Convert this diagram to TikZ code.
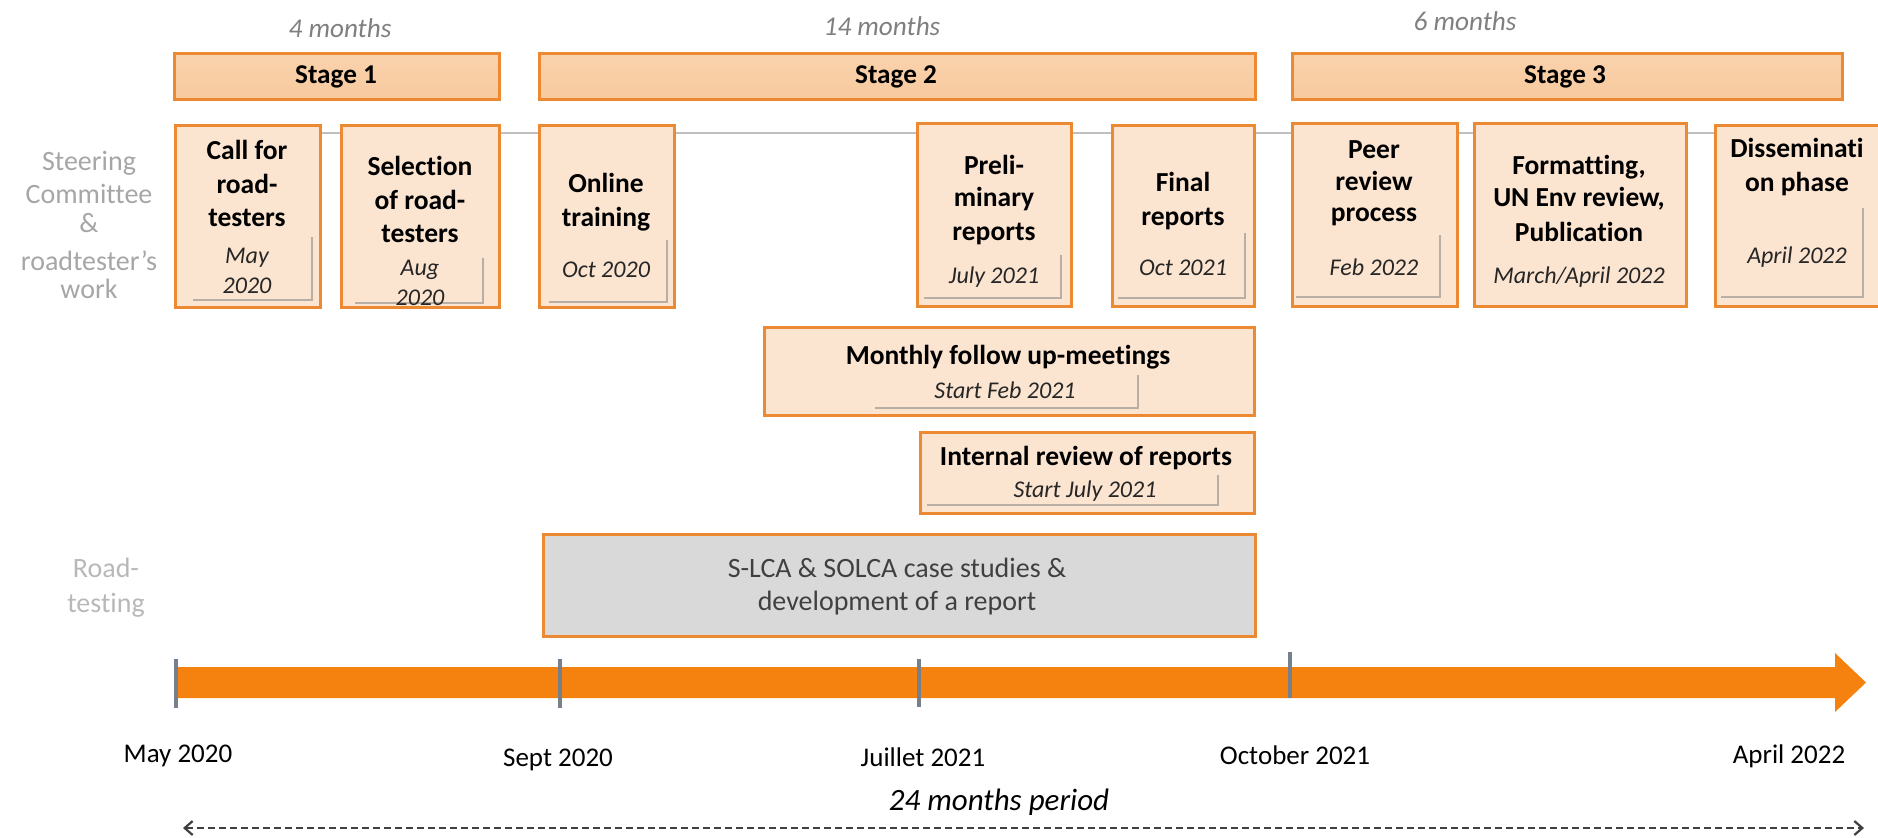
\documentclass[tikz,border=0pt]{standalone}
\usepackage{fontspec}
\setmainfont{Carlito}[Ligatures=NoCommon]
\usetikzlibrary{arrows.meta,shadows,fit}
\definecolor{borderor}{HTML}{EC8A34}
\definecolor{boxfill}{HTML}{FBE4D0}
\definecolor{stagefill}{HTML}{F8CA9E}
\definecolor{baror}{HTML}{F5820F}
\definecolor{tickgray}{HTML}{76808C}
\definecolor{lblgray}{HTML}{A6A6A6}
\definecolor{monthgray}{HTML}{7F7F7F}
\definecolor{grayfill}{HTML}{D9D9D9}
\definecolor{inshadow}{HTML}{A39C95}
\definecolor{slcatext}{HTML}{404040}
\begin{document}
\begin{tikzpicture}[x=0.5pt, y=-0.5pt,
  txt/.style={inner sep=0pt, anchor=base},
  ttl/.style={txt, font=\fontsize{13.75pt}{16.5pt}\selectfont\bfseries, text=black},
  dte/.style={txt, font=\fontsize{12pt}{15pt}\selectfont\itshape, text=black!85},
  stg/.style={txt, font=\fontsize{13.6pt}{16pt}\selectfont\bfseries, text=black},
  mth/.style={txt, font=\fontsize{13.6pt}{16pt}\selectfont\itshape, text=monthgray},
  rowlbl/.style={txt, font=\fontsize{14pt}{16pt}\selectfont, text=lblgray},
  datelbl/.style={txt, font=\fontsize{13.5pt}{16pt}\selectfont, text=black},
  slca/.style={txt, font=\fontsize{14pt}{16.5pt}\selectfont, text=slcatext},
  tbox/.style={draw=borderor, line width=1.5pt, fill=boxfill, inner sep=0pt,
    drop shadow={shadow xshift=0.6pt, shadow yshift=-1.2pt, opacity=0.3}},
  sbar/.style={draw=borderor, line width=1.5pt, inner sep=0pt,
    top color=stagefill!85!white, bottom color=stagefill,
    drop shadow={shadow xshift=0.6pt, shadow yshift=-1.2pt, opacity=0.3}},
  gbox/.style={draw=borderor, line width=1.5pt, fill=grayfill, inner sep=0pt},
  inshd/.style={draw=inshadow, line width=1.2pt, opacity=0.75},
  tick/.style={draw=tickgray, line width=2pt},
  thinline/.style={draw=black!25, line width=0.6pt},
  period/.style={draw=black!75, line width=1.1pt, dash pattern=on 3.5pt off 2pt,
    {Straight Barb[length=4pt,width=7pt]}-{Straight Barb[length=4pt,width=7pt]}}
]
\useasboundingbox (0,0) rectangle (1878,837);

% duration labels
\node[mth] (m1) at (340,37) {4 months};
\node[mth] (m2) at (882,35) {14 months};
\node[mth] (m3) at (1465,30) {6 months};

% stage bars
\node[sbar, fit={(174,53) (499,99)}] (s1) {};
\node[sbar, fit={(539,53) (1255,99)}] (s2) {};
\node[sbar, fit={(1292,53) (1842,99)}] (s3) {};
\node[stg] (s1t) at (336,83) {Stage 1};
\node[stg] (s2t) at (896,83) {Stage 2};
\node[stg] (s3t) at (1565,83) {Stage 3};

% thin line behind boxes
\coordinate (la) at (175,133);
\coordinate (lb) at (1878,133);
\draw[thinline] (la) -- (lb);

% row labels
\node[rowlbl] (r1) at (89,170) {Steering};
\node[rowlbl] (r2) at (89,203) {Committee};
\node[rowlbl] (r3) at (89,232) {\&};
\node[rowlbl] (r4) at (89,270) {roadtester’s};
\node[rowlbl] (r5) at (89,298) {work};
\node[rowlbl, text=black!28] (r6) at (106,577) {Road-};
\node[rowlbl, text=black!28] (r7) at (106,612) {testing};

% activity boxes
\node[tbox, fit={(175,125) (320,307)}] (b1) {};
\node[tbox, fit={(341,125) (499,307)}] (b2) {};
\node[tbox, fit={(539,125) (674,307)}] (b3) {};
\node[tbox, fit={(917,123) (1071,306)}] (b4) {};
\node[tbox, fit={(1112,125) (1254,306)}] (b5) {};
\node[tbox, fit={(1292,123) (1457,306)}] (b6) {};
\node[tbox, fit={(1474,123) (1686,306)}] (b7) {};
\node[tbox, fit={(1715,125) (1890,306)}] (b8) {};
\node[tbox, fit={(764,327) (1254,415)}] (b9) {};
\node[tbox, fit={(920,432) (1254,513)}] (b10) {};
\node[gbox, fit={(543,534) (1255,636)}] (b11) {};

% inner shadows
\draw[inshd] (312,237) -- (312,300) -- (193,300);
\draw[inshd] (483,258) -- (483,303) -- (355,303);
\draw[inshd] (667,240) -- (667,302) -- (549,302);
\draw[inshd] (1061,255) -- (1061,298) -- (924,298);
\draw[inshd] (1245,233) -- (1245,298) -- (1118,298);
\draw[inshd] (1440,235) -- (1440,297) -- (1296,297);
\draw[inshd] (1863,208) -- (1863,297) -- (1721,297);
\draw[inshd] (1138,375) -- (1138,408) -- (875,408);
\draw[inshd] (1218,475) -- (1218,505) -- (927,505);

% box texts
\node[ttl] (t1a) at (247,159) {Call for};
\node[ttl] (t1b) at (247,193) {road-};
\node[ttl] (t1c) at (247,226) {testers};
\node[dte] (d1a) at (247,263) {May};
\node[dte] (d1b) at (247,293) {2020};

\node[ttl] (t2a) at (420,175) {Selection};
\node[ttl] (t2b) at (420,209) {of road-};
\node[ttl] (t2c) at (420,242) {testers};
\node[dte] (d2a) at (420,275) {Aug};
\node[dte] (d2b) at (420,305) {2020};

\node[ttl] (t3a) at (606,192) {Online};
\node[ttl] (t3b) at (606,226) {training};
\node[dte] (d3) at (606,277) {Oct 2020};

\node[ttl] (t4a) at (994,174) {Preli-};
\node[ttl] (t4b) at (994,206) {minary};
\node[ttl] (t4c) at (994,240) {reports};
\node[dte] (d4) at (994,283) {July 2021};

\node[ttl] (t5a) at (1183,191) {Final};
\node[ttl] (t5b) at (1183,225) {reports};
\node[dte] (d5) at (1183,275) {Oct 2021};

\node[ttl] (t6a) at (1374,158) {Peer};
\node[ttl] (t6b) at (1374,190) {review};
\node[ttl] (t6c) at (1374,221) {process};
\node[dte] (d6) at (1374,275) {Feb 2022};

\node[ttl] (t7a) at (1579,174) {Formatting,};
\node[ttl] (t7b) at (1579,206) {UN Env review,};
\node[ttl] (t7c) at (1579,241) {Publication};
\node[dte] (d7) at (1579,283) {March/April 2022};

\node[ttl] (t8a) at (1797,157) {Disseminati};
\node[ttl] (t8b) at (1797,191) {on phase};
\node[dte] (d8) at (1797,263) {April 2022};

\node[ttl] (t9) at (1008,364) {Monthly follow up-meetings};
\node[dte] (d9) at (1005,398) {Start Feb 2021};

\node[ttl] (t10) at (1086,465) {Internal review of reports};
\node[dte] (d10) at (1085,497) {Start July 2021};

\node[slca] (t11a) at (897,577) {S-LCA \& SOLCA case studies \&};
\node[slca] (t11b) at (897,610) {development of a report};

% timeline arrow
\fill[baror] (176,667) -- (1835,667) -- (1835,653) -- (1866,682.5)
  -- (1835,712) -- (1835,698) -- (176,698) -- cycle;
\coordinate (k1a) at (176,659); \coordinate (k1b) at (176,708);
\coordinate (k2a) at (560,659); \coordinate (k2b) at (560,708);
\coordinate (k3a) at (919,659); \coordinate (k3b) at (919,707);
\coordinate (k4a) at (1290,652); \coordinate (k4b) at (1290,698);
\draw[tick] (k1a) -- (k1b);
\draw[tick] (k2a) -- (k2b);
\draw[tick] (k3a) -- (k3b);
\draw[tick] (k4a) -- (k4b);

% date labels
\node[datelbl] (e1) at (178,762) {May 2020};
\node[datelbl] (e2) at (558,766) {Sept 2020};
\node[datelbl] (e3) at (923,766) {Juillet 2021};
\node[datelbl] (e4) at (1295,764) {October 2021};
\node[datelbl] (e5) at (1789,763) {April 2022};

% period
\node[txt, font=\fontsize{15.5pt}{18pt}\selectfont\itshape, text=black] (per) at (999,810) {24 months period};
\coordinate (pa) at (183,828);
\coordinate (pb) at (1864,828);
\draw[period] (pa) -- (pb);
\end{tikzpicture}
\end{document}
